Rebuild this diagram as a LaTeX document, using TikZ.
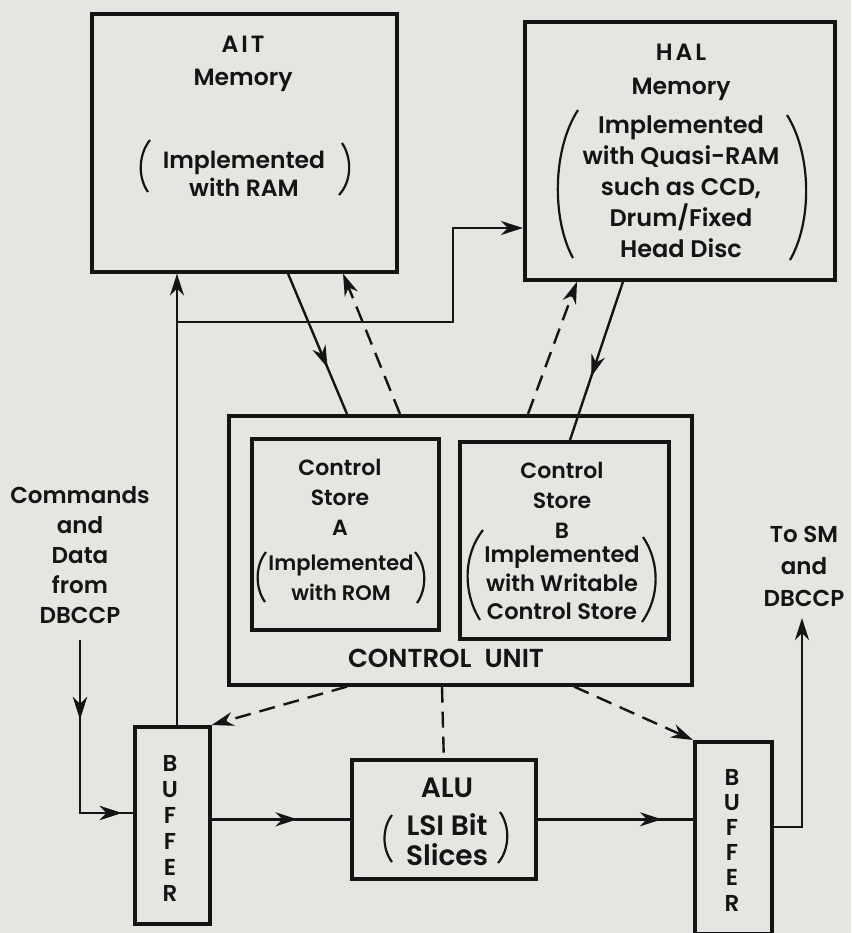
\documentclass[tikz,border=0pt]{standalone}
\usepackage{fontspec}
\setmainfont{Poppins}[UprightFont={* SemiBold}]
\usetikzlibrary{arrows.meta,decorations.markings}
\definecolor{paper}{RGB}{229,229,226}
\definecolor{ink}{RGB}{20,20,20}
\tikzset{
  box/.style={draw=ink, line width=3.6pt, inner sep=0pt, anchor=north west},
  conn/.style={draw=ink, line width=2.4pt},
  dashconn/.style={draw=ink, line width=2.4pt, dash pattern=on 16pt off 9pt},
  tip/.style={-{Stealth[length=22pt,width=14pt,inset=7pt]}},
  midtip/.style={postaction={decorate}, decoration={markings,
      mark=at position #1 with {\arrow{Stealth[length=22pt,width=14pt,inset=7pt]}}}},
  paren/.style={draw=ink, line width=2.2pt},
  txt/.style={text=ink, inner sep=0pt, align=center, font=\fontsize{23}{#1}\selectfont},
  txt/.default=30,
  fs/.style 2 args={text=ink, inner sep=0pt, align=center, font=\fontsize{#1}{#2}\selectfont},
}
\begin{document}
\begin{tikzpicture}[x=1pt,y=-1pt]
\fill[paper] (0,0) rectangle (851,933);
\useasboundingbox (0,0) rectangle (851,933);

% boxes
\node[box, minimum width=305pt, minimum height=258pt] (ait) at (90,12) {};
\node[box, minimum width=310pt, minimum height=258pt] (hal) at (523,20) {};
\node[box, minimum width=463pt, minimum height=269pt] (cu) at (227,414) {};
\node[box, minimum width=187pt, minimum height=191pt] (csa) at (250,437) {};
\node[box, minimum width=209pt, minimum height=197pt] (csb) at (458,440) {};
\node[box, minimum width=75pt, minimum height=197pt] (buf1) at (133,725) {};
\node[box, minimum width=184pt, minimum height=119pt] (alu) at (350,758) {};
\node[box, minimum width=77pt, minimum height=192pt] (buf2) at (693,740) {};

% texts
\node[fs={23.5}{33}] (aitT) at (243,64) {A\kern3pt I\kern3pt T\\Memory};
\node[fs={23.5}{28}] (aitB) at (244,174) {Implemented\\with RAM};
\node[fs={23.5}{34}] (halT) at (681,72) {H\kern3pt A\kern3pt L\\Memory};
\node[fs={24}{31}] (halB) at (681,187) {Implemented\\with Quasi-RAM\\such as CCD,\\Drum/Fixed\\Head Disc};
\node[fs={22}{30}] (csaT) at (340,497) {Control\\Store\\A};
\node[fs={21}{30}] (csaB) at (341,578) {Implemented\\with ROM};
\node[fs={22}{30}] (csbT) at (562,500) {Control\\Store\\B};
\node[fs={22.5}{28.5}] (csbB) at (562,583) {Implemented\\with Writable\\Control Store};
\node[fs={26}{30}] (cuT) at (446,658) {CONTROL\hspace{0.5em}UNIT};
\node[fs={28}{30}] (aluT) at (447,788) {ALU};
\node[fs={28}{30}] (aluB) at (447,840) {LSI Bit\\Slices};
\node[fs={23}{30}] (cmdT) at (80,555) {Commands\\and\\Data\\from\\DBCCP};
\node[fs={23}{32}] (smT) at (804,566) {To SM\\and\\DBCCP};
\node[fs={23}{26}] (buf1T) at (170,828) {B\\U\\F\\F\\E\\R};
\node[fs={23}{25.2}] (buf2T) at (732,840) {B\\U\\F\\F\\E\\R};

% parentheses
\draw[paren] (150,140) .. controls (138,155) and (138,178) .. (148,192);
\draw[paren] (342,143) .. controls (352,158) and (352,181) .. (339,195);
\draw[paren] (578,110) .. controls (552,150) and (552,220) .. (573,258);
\draw[paren] (787,115) .. controls (812,155) and (812,222) .. (790,260);
\draw[paren] (266,552) .. controls (255,566) and (255,588) .. (265,602);
\draw[paren] (415,552) .. controls (427,566) and (427,589) .. (417,603);
\draw[paren] (483,530) .. controls (463,555) and (463,593) .. (480,620);
\draw[paren] (643,537) .. controls (660,562) and (660,597) .. (642,622);
\draw[paren] (392,815) .. controls (382,828) and (382,849) .. (392,862);
\draw[paren] (500,812) .. controls (510,826) and (510,849) .. (498,863);

% coordinates for free ends and bends
\coordinate (br) at (177,322);
\coordinate (c1) at (453,322);
\coordinate (c2) at (453,228);
\coordinate (cmd) at (80,640);
\coordinate (tosm) at (802,618);

% buffer1 up to AIT and HAL
\draw[conn, tip] ([xshift=44pt]buf1.north west) -- ([xshift=87pt]ait.south west);
\draw[conn, tip] (br) -- (c1) -- (c2) -- (c2 -| hal.west);

% AIT <-> control unit
\draw[conn, midtip=0.67] ([xshift=198pt]ait.south west) -- ([xshift=120pt]cu.north west);
\draw[dashconn, tip] ([xshift=173pt]cu.north west) -- ([xshift=253pt]ait.south west);

% HAL <-> control unit
\draw[dashconn, tip] ([xshift=301pt]cu.north west) -- ([xshift=54pt]hal.south west);
\draw[conn, midtip=0.6] ([xshift=100pt]hal.south west) -- ([xshift=112pt]csb.north west);

% control unit -> buffers, ALU
\draw[dashconn, tip] ([xshift=120pt]cu.south west) -- (buf1.north east);
\draw[dashconn, tip] ([xshift=347pt]cu.south west) -- (buf2.north west);
\draw[dashconn] ([xshift=215pt]cu.south west) -- (alu.north);

% data path
\draw[conn, midtip=0.35, midtip=0.95] (cmd) |- ([yshift=-88pt]buf1.north west);
\draw[conn, midtip=0.62] (buf1.east |- alu.west) -- (alu.west);
\draw[conn, midtip=0.8] (alu.east) -- (alu.east -| buf2.west);
\draw[conn, tip] ([yshift=-87pt]buf2.north east) -| (tosm);
\end{tikzpicture}
\end{document}
